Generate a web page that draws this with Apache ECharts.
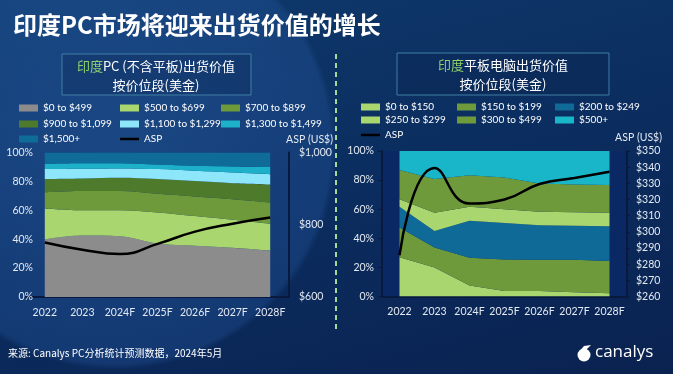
<!DOCTYPE html>
<html>
<head>
<meta charset="utf-8">
<script src="https://cdn.jsdelivr.net/npm/echarts@6/dist/echarts.min.js"></script>
<style>
html,body{margin:0;padding:0;}
#c{width:673px;height:374px;
background:
 radial-gradient(circle 222px at 115px 148px, rgba(45,100,175,0.42) 0%, rgba(38,90,165,0.32) 97%, rgba(38,90,165,0) 100%),
 linear-gradient(165deg, #0f3a6c 0%, #0b2d5f 50%, #0a2250 100%);}
</style>
</head>
<body>
<div id="c"></div>
<script>
// ---- data ----
const years = ['2022','2023','2024F','2025F','2026F','2027F','2028F'];

const pcNames = ['$0 to $499','$500 to $699','$700 to $899','$900 to $1,099','$1,100 to $1,299','$1,300 to $1,499','$1,500+'];
const pc0_499     = [40, 42.6, 42, 37, 35.5, 34, 32];
const pc500_699   = [21.3, 17.4, 18, 21.5, 20.5, 19.5, 18.7];
const pc700_899   = [11.1, 13.3, 13.3, 12.9, 13.6, 14.2, 14.7];
const pc900_1099  = [9.2, 8.7, 9.2, 10.2, 10.6, 11.1, 12.5];
const pc1100_1299 = [6.9, 6.7, 6.5, 6.9, 7.1, 7.4, 7.1];
const pc1300_1499 = [3.7, 3.9, 3.6, 3.2, 3.5, 4.1, 4.9];
const pc1500plus  = [7.8, 7.4, 7.4, 8.3, 9.2, 9.7, 10.1];
const pcAsp       = [751, 731, 719, 747, 781, 803, 820];

const tbNames = ['$0 to $150','$150 to $199','$200 to $249','$250 to $299','$300 to $499','$500+'];
const tb0_150   = [27, 20, 7.6, 3.7, 3.7, 3, 2.3];
const tb150_199 = [20.4, 13.6, 19.1, 21.8, 21.6, 22.3, 22.1];
const tb200_249 = [14.2, 11.4, 25.3, 25.1, 23.7, 23.4, 23.9];
const tb250_299 = [5.3, 12.5, 9.6, 9.4, 9.2, 9.2, 9.2];
const tb300_499 = [20, 23.2, 21.8, 21.8, 19.5, 19.1, 19.1];
const tb500plus = [13.1, 19.3, 16.6, 18.2, 22.3, 23, 23.4];
const tbAsp     = [285.5, 339.5, 317.5, 320, 329.6, 333.3, 337.2];

const pctTicks = ['0%','20%','40%','60%','80%','100%'];

// ---- styles ----
const pcColors = ['#8c8c8c','#a9d66e','#6e9a3c','#4e7a2b','#8ee6fb','#1cb1c9','#0f6c99'];
const tbColors = ['#a9d66e','#6e9a3c','#0f6a98','#a9d66e','#6e9a3c','#19b5c9'];
const FONT = 'Lato, "Noto Sans CJK SC", sans-serif';
const CJK = '"Noto Sans CJK SC", Lato, sans-serif';
const axisDark = '#081a40';
const lblColor = '#e3eaf2';

const chart = echarts.init(document.getElementById('c'), null, {renderer:'canvas'});

function areaSeries(name, data, color, xi, yi, smooth){
  return {name, type:'line', stack:'s'+xi, data, xAxisIndex:xi, yAxisIndex:yi,
    smooth, symbol:'none', lineStyle:{width:0, opacity:0}, areaStyle:{color, opacity:1},
    itemStyle:{color}, emphasis:{disabled:true}, z:2};
}
const pcData = [pc0_499,pc500_699,pc700_899,pc900_1099,pc1100_1299,pc1300_1499,pc1500plus];
const tbData = [tb0_150,tb150_199,tb200_249,tb250_299,tb300_499,tb500plus];

const series = [];
pcNames.forEach((n,i)=>series.push(areaSeries(n, pcData[i], pcColors[i], 0, 0, 0.35)));
series.push({name:'ASP', type:'line', data:pcAsp, xAxisIndex:0, yAxisIndex:1, smooth:0.5,
  symbol:'none', lineStyle:{color:'#000', width:2.5}, itemStyle:{color:'#000'}, z:5});
tbNames.forEach((n,i)=>series.push(areaSeries(n, tbData[i], tbColors[i], 1, 2, false)));
series.push({name:'ASP', type:'line', data:tbAsp, xAxisIndex:1, yAxisIndex:3, smooth:0.5,
  symbol:'none', lineStyle:{color:'#000', width:2.5}, itemStyle:{color:'#000'}, z:5});

// legends, one per item positioned in a 3-column grid
const legends = [];
function addLegend(name, left, top, isLine){
  legends.push({data:[name], left, top, selectedMode:false, icon:'rect',
    itemWidth:19, itemHeight:isLine?2.5:7, padding:0,
    textStyle:{color:'#ffffff', fontSize:10, fontFamily:FONT}});
}
const pcCols = [19,120,221], pcRows = [103,119,134];
pcNames.forEach((n,i)=>addLegend(n, pcCols[i%3], pcRows[Math.floor(i/3)], false));
addLegend('ASP', pcCols[1], pcRows[2], true);
const tbCols = [361,457,555], tbRows = [102,115,130];
tbNames.forEach((n,i)=>addLegend(n, tbCols[i%3], tbRows[Math.floor(i/3)], false));
addLegend('ASP', tbCols[0], tbRows[2], true);

function xAxis(gi){
  return {type:'category', gridIndex:gi, data:years, boundaryGap:true,
    axisLine:{show:true, lineStyle:{color:axisDark, width:2}}, axisTick:{show:false},
    axisLabel:{color:lblColor, fontSize:10.5, fontFamily:FONT, margin:10, interval:0}};
}
const option = {
  animation:false,
  backgroundColor:'transparent',
  title:{text:'印度PC市场将迎来出货价值的增长', left:8, top:8,
    textStyle:{color:'#ffffff', fontSize:24, fontWeight:'bold', fontFamily:CJK}},
  legend:legends,
  grid:[
    {left:26, right:673-289, top:152.5, bottom:374-297, containLabel:false},
    {left:382, right:673-627, top:151, bottom:374-296.5, containLabel:false, show:true,
      backgroundColor:'#0a2864', borderWidth:0}
  ],
  xAxis:[xAxis(0), xAxis(1)],
  yAxis:[
    {type:'value', gridIndex:0, min:0, max:100, interval:20, offset:-19,
      axisLine:{show:false}, axisTick:{show:false}, splitLine:{show:false},
      axisLabel:{color:lblColor, fontSize:10.5, fontFamily:FONT, margin:12,
        formatter:(v)=>pctTicks[v/20]}},
    {type:'value', gridIndex:0, position:'right', min:600, max:1000, interval:200,
      axisLine:{show:true, lineStyle:{color:axisDark, width:2}}, axisTick:{show:false}, splitLine:{show:false},
      axisLabel:{color:lblColor, fontSize:10.5, fontFamily:FONT, margin:10,
        formatter:(v)=>'$'+v.toLocaleString('en-US')}},
    {type:'value', gridIndex:1, min:0, max:100, interval:20,
      axisLine:{show:true, lineStyle:{color:axisDark, width:2}},
      axisTick:{show:true, length:4, lineStyle:{color:axisDark}}, splitLine:{show:false},
      axisLabel:{color:lblColor, fontSize:10.5, fontFamily:FONT, margin:8,
        formatter:(v)=>pctTicks[v/20]}},
    {type:'value', gridIndex:1, position:'right', min:260, max:350, interval:10,
      axisLine:{show:true, lineStyle:{color:axisDark, width:2}},
      axisTick:{show:true, length:3, lineStyle:{color:axisDark}}, splitLine:{show:false},
      axisLabel:{color:lblColor, fontSize:10.5, fontFamily:FONT, margin:9,
        formatter:(v)=>'$'+v}}
  ],
  series,
  graphic:[
    {type:'line', shape:{x1:336, y1:54, x2:336, y2:332},
      style:{stroke:'#9fdc9a', lineWidth:2, lineDash:[5,4]}},
    {type:'rect', shape:{x:62, y:54, width:189, height:41},
      style:{fill:'rgba(8,30,70,0.25)', stroke:'#3f7ea3', lineWidth:1}},
    {type:'text', x:156, y:66, style:{text:'{g|印度}{w|PC (不含平板)出货价值}', align:'center', verticalAlign:'middle',
      rich:{g:{fill:'#8fd16d', fontSize:13, fontFamily:CJK}, w:{fill:'#ffffff', fontSize:13, fontFamily:CJK}}}},
    {type:'text', x:156, y:85, style:{text:'按价位段(美金)', align:'center', verticalAlign:'middle',
      fill:'#ffffff', fontSize:13, fontFamily:CJK}},
    {type:'rect', shape:{x:397, y:53, width:212, height:42},
      style:{fill:'rgba(8,30,70,0.25)', stroke:'#3f7ea3', lineWidth:1}},
    {type:'text', x:503, y:65, style:{text:'{g|印度}{w|平板电脑出货价值}', align:'center', verticalAlign:'middle',
      rich:{g:{fill:'#8fd16d', fontSize:13, fontFamily:CJK}, w:{fill:'#ffffff', fontSize:13, fontFamily:CJK}}}},
    {type:'text', x:503, y:84, style:{text:'按价位段(美金)', align:'center', verticalAlign:'middle',
      fill:'#ffffff', fontSize:13, fontFamily:CJK}},
    {type:'text', x:333, y:140, style:{text:'ASP (US$)', align:'right', verticalAlign:'middle',
      fill:lblColor, fontSize:10.5, fontFamily:FONT}},
    {type:'text', x:662, y:138, style:{text:'ASP (US$)', align:'right', verticalAlign:'middle',
      fill:lblColor, fontSize:10.5, fontFamily:FONT}},
    {type:'text', x:8, y:353, style:{text:'来源: Canalys PC分析统计预测数据，2024年5月', verticalAlign:'middle',
      fill:'#ffffff', fontSize:10, fontFamily:CJK}},
    {type:'circle', shape:{cx:584, cy:355, r:6.5}, style:{fill:'#ffffff'}},
    {type:'polygon', shape:{points:[[578,353],[584,346],[591,345],[586,350]]}, style:{fill:'#ffffff'}},
    {type:'text', x:595, y:352, style:{text:'canalys', verticalAlign:'middle',
      fill:'#ffffff', fontSize:17, fontFamily:'"Open Sans", Lato, sans-serif'}}
  ]
};
chart.setOption(option);
</script>
</body>
</html>
